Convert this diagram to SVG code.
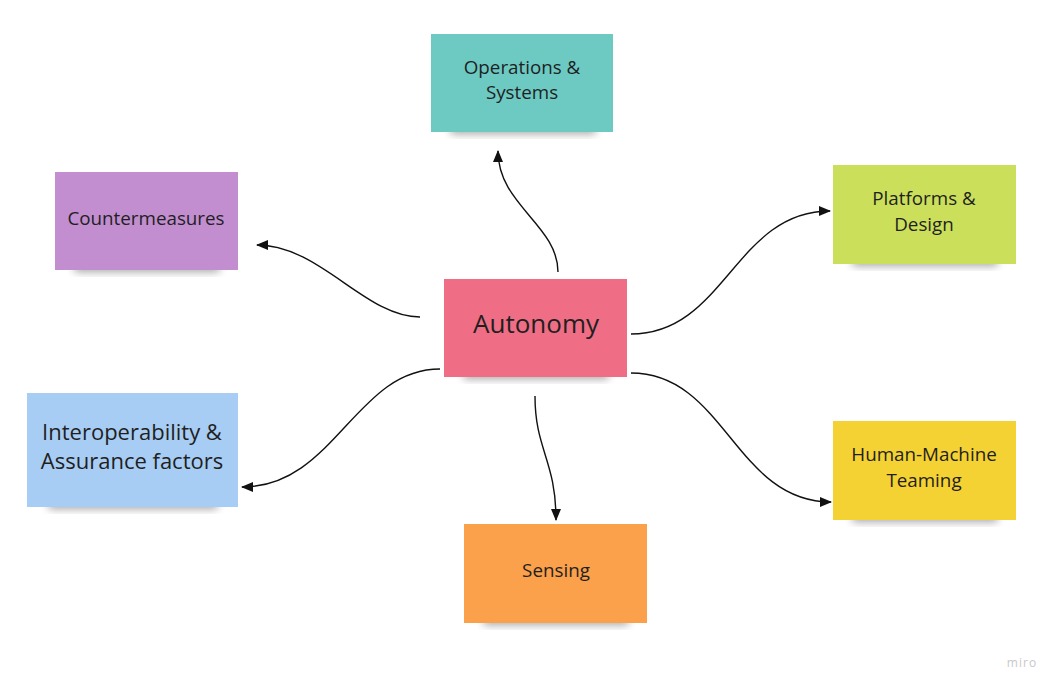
<svg xmlns="http://www.w3.org/2000/svg" width="1063" height="692" viewBox="0 0 1063 692">
<defs>
<filter id="sh" x="-20%" y="-50%" width="140%" height="200%">
<feGaussianBlur stdDeviation="4"/>
</filter>
<marker id="ah" viewBox="0 0 12 10" refX="11" refY="5" markerWidth="12" markerHeight="10" markerUnits="userSpaceOnUse" orient="auto">
<path d="M0,0 L12,5 L0,10 Z" fill="#111"/>
</marker>
</defs>
<style>
.t{font-family:"Open Sans","Noto Sans",sans-serif;font-size:18.8px;fill:#1f1f1f;text-anchor:middle}
.shadow{fill:#000;opacity:0.35}
.c{fill:none;stroke:#111;stroke-width:1.4;marker-end:url(#ah)}
</style>
<rect width="1063" height="692" fill="#ffffff"/>
<g id="connectors">
<path class="c" d="M558,272 C558,225 498,205 498,151"/>
<path class="c" d="M420,317 C365,317 320,245 257,245"/>
<path class="c" d="M631,334 C725,334 735,211 830,211"/>
<path class="c" d="M440,369 C355,369 335,487 242,487"/>
<path class="c" d="M631,373 C725,373 735,502 831,502"/>
<path class="c" d="M535,396 C535,450 556,460 556,520"/>
</g>
<g id="ops">
<rect class="shadow" x="450" y="124" width="146" height="10" rx="4" filter="url(#sh)"/>
<rect x="431" y="34" width="182" height="98" fill="#6ccac3"/>
<text class="t" x="522" y="74">Operations &amp;</text>
<text class="t" x="522" y="99">Systems</text>
</g>
<g id="countermeasures">
<rect class="shadow" x="74" y="262" width="146" height="10" rx="4" filter="url(#sh)"/>
<rect x="55" y="172" width="183" height="98" fill="#c28ed0"/>
<text class="t" x="146" y="225">Countermeasures</text>
</g>
<g id="platforms">
<rect class="shadow" x="852" y="256" width="146" height="10" rx="4" filter="url(#sh)"/>
<rect x="833" y="165" width="183" height="99" fill="#cbdf5b"/>
<text class="t" x="924" y="205">Platforms &amp;</text>
<text class="t" x="924" y="231">Design</text>
</g>
<g id="autonomy">
<rect class="shadow" x="463" y="369" width="146" height="10" rx="4" filter="url(#sh)"/>
<rect x="444" y="279" width="183" height="98" fill="#ef6e85"/>
<text class="t" x="536" y="333" style="font-size:26px">Autonomy</text>
</g>
<g id="interop">
<rect class="shadow" x="48" y="499" width="170" height="10" rx="4" filter="url(#sh)"/>
<rect x="27" y="393" width="211" height="114" fill="#a8cdf4"/>
<text class="t" x="132" y="440" style="font-size:22px">Interoperability &amp;</text>
<text class="t" x="132" y="469" style="font-size:22px">Assurance factors</text>
</g>
<g id="hmt">
<rect class="shadow" x="852" y="512" width="146" height="10" rx="4" filter="url(#sh)"/>
<rect x="833" y="421" width="183" height="99" fill="#f5d233"/>
<text class="t" x="924" y="461">Human-Machine</text>
<text class="t" x="924" y="487">Teaming</text>
</g>
<g id="sensing">
<rect class="shadow" x="483" y="615" width="146" height="10" rx="4" filter="url(#sh)"/>
<rect x="464" y="524" width="183" height="99" fill="#fba04b"/>
<text class="t" x="556" y="577">Sensing</text>
</g>
<text x="1022" y="667" style="font-family:'Open Sans',sans-serif;font-size:12px;fill:#c8c8c8;text-anchor:middle;letter-spacing:1px">miro</text>
</svg>
